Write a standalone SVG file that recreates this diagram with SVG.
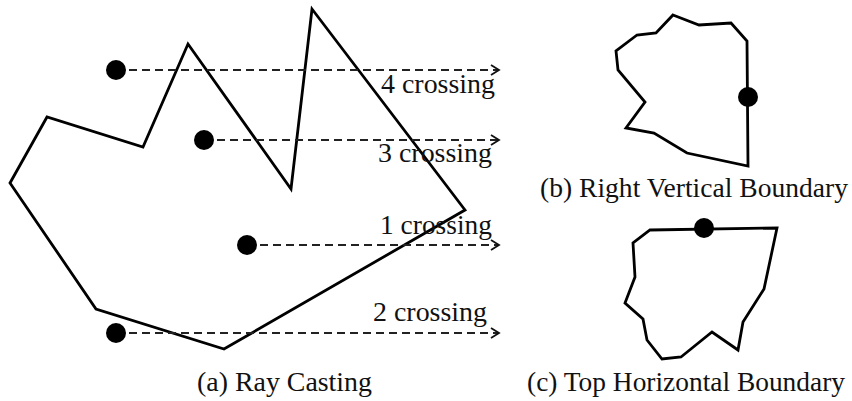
<svg xmlns="http://www.w3.org/2000/svg" width="852" height="401" viewBox="0 0 852 401">
<defs>
<marker id="arr" viewBox="-10 -7 12 14" refX="0" refY="0" markerWidth="12" markerHeight="14" markerUnits="userSpaceOnUse" orient="auto">
<path d="M-8,-5 L0,0 L-8,5" fill="none" stroke="#111" stroke-width="1.8"/>
</marker>
</defs>
<style>
.poly{fill:none;stroke:#000;stroke-width:2.8;stroke-linejoin:miter}
.ray{stroke:#222;stroke-width:1.8;stroke-dasharray:8 5;fill:none}
.dot{fill:#000}
.t{font-family:"Liberation Serif","Times New Roman",serif;font-size:27.5px;fill:#111}
</style>
<rect width="852" height="401" fill="#fff"/>
<g id="panel-a">
<polygon class="poly" points="10,183 47,117 143,147 188,44 291,189 312,9 465,210 224,349 96,309"/>
</g>
<g id="connectors">
<line class="ray" x1="116" y1="70" x2="499" y2="70" marker-end="url(#arr)"/>
<line class="ray" x1="204" y1="140" x2="499" y2="140" marker-end="url(#arr)"/>
<line class="ray" x1="247" y1="245" x2="499" y2="245" marker-end="url(#arr)"/>
<line class="ray" x1="116" y1="333" x2="499" y2="333" marker-end="url(#arr)"/>
</g>
<g id="point1"><circle class="dot" cx="116" cy="70" r="10"/></g>
<g id="point2"><circle class="dot" cx="204" cy="140" r="10"/></g>
<g id="point3"><circle class="dot" cx="247" cy="245" r="10"/></g>
<g id="point4"><circle class="dot" cx="116" cy="333" r="10"/></g>
<g id="labels-a">
<text class="t" x="381" y="93" textLength="114" lengthAdjust="spacingAndGlyphs">4 crossing</text>
<text class="t" x="378" y="162" textLength="114" lengthAdjust="spacingAndGlyphs">3 crossing</text>
<text class="t" x="380" y="234" textLength="112" lengthAdjust="spacingAndGlyphs">1 crossing</text>
<text class="t" x="373" y="321" textLength="114" lengthAdjust="spacingAndGlyphs">2 crossing</text>
<text class="t" x="197" y="391" textLength="175" lengthAdjust="spacingAndGlyphs">(a) Ray Casting</text>
</g>
<g id="panel-b">
<polygon class="poly" points="673,15 699,25 731,23 747,41 748,166 687,153 654,133 626,128 645,102 618,70 616,51 637,35 656,33"/>
<circle class="dot" cx="748" cy="97" r="10"/>
<text class="t" x="540" y="197" textLength="308" lengthAdjust="spacingAndGlyphs">(b) Right Vertical Boundary</text>
</g>
<g id="panel-c">
<polygon class="poly" points="650,230 777,228 764,289 743,322 738,350 712,332 681,357 662,359 647,340 643,319 625,303 635,277 633,243"/>
<circle class="dot" cx="704" cy="228" r="10"/>
<text class="t" x="527" y="391" textLength="318" lengthAdjust="spacingAndGlyphs">(c) Top Horizontal Boundary</text>
</g>
</svg>
